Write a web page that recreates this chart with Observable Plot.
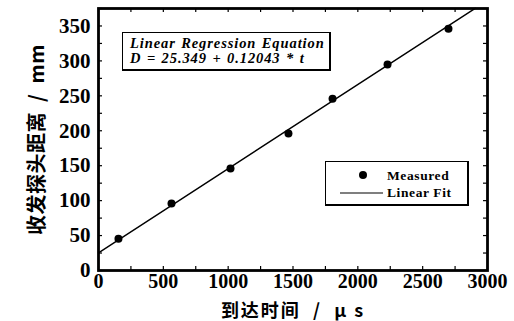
<!DOCTYPE html>
<html>
<head>
<meta charset="utf-8">
<script src="https://cdn.jsdelivr.net/npm/d3@7"></script>
<script src="https://cdn.jsdelivr.net/npm/@observablehq/plot@0.6"></script>
<style>
  html, body { margin: 0; padding: 0; background: #fff; }
  #wrap { position: relative; width: 514px; height: 321px; overflow: hidden; }
  .box { position: absolute; background: #fff; border: 1.5px solid #000; border-right-width: 2.5px; border-bottom-width: 2.5px; box-sizing: border-box;
         font-family: "Liberation Serif", serif; font-weight: bold; color: #000; }
  #eq { left: 122px; top: 32px; width: 209px; height: 39px; font-style: italic; font-size: 14.5px; letter-spacing: 0.9px; word-spacing: 1px; line-height: 15px; padding: 3px 0 0 7px; white-space: nowrap; }
  #leg { left: 325px; top: 161px; width: 144px; height: 45px; }
</style>
</head>
<body>
<div id="wrap"></div>
<script>
const times = [154, 563, 1018, 1465, 1805, 2229, 2699];
const distances = [45.5, 96, 146, 196, 246, 295, 346];
const fitIntercept = 25.349;
const fitSlope = 0.12043;
const fitRange = [0, 2905];
const xTickLabels = [0, 500, 1000, 1500, 2000, 2500, 3000];
const yTickLabels = [0, 50, 100, 150, 200, 250, 300, 350];
const xLabel = "到达时间  /  μ s";
const yLabel = "收发探头距离  /  mm";
const eqTitle = "Linear Regression Equation";
const eqText = "D = 25.349 + 0.12043 * t";
const legendNames = ["Measured", "Linear Fit"];

const measured = times.map((t, i) => ({t, d: distances[i]}));
const fit = fitRange.map(t => ({t, d: fitIntercept + fitSlope * t}));
const xMinor = d3.range(0, 3001, 250);
const yMinor = d3.range(0, 376, 25);

const ML = 98, MR = 27, MT = 8, MB = 51, W = 514, H = 321;
const pw = W - ML - MR, ph = H - MT - MB;
const tickFont = {fontFamily: "Liberation Serif, serif", fontWeight: "bold", fontSize: 20};

const chart = Plot.plot({
  width: W, height: H,
  marginLeft: ML, marginRight: MR, marginTop: MT, marginBottom: MB,
  style: {background: "#fff", color: "#000", overflow: "visible"},
  x: {domain: [0, 3000]},
  y: {domain: [0, 375]},
  marks: [
    Plot.tickY(yMinor, {y: d => d, stroke: "#000", strokeWidth: 1.2, insetRight: pw - 4}),
    Plot.tickY(yMinor, {y: d => d, stroke: "#000", strokeWidth: 1.2, insetLeft: pw - 4}),
    Plot.tickX(xMinor, {x: d => d, stroke: "#000", strokeWidth: 1.2, insetTop: ph - 4}),
    Plot.tickX(xMinor, {x: d => d, stroke: "#000", strokeWidth: 1.2, insetBottom: ph - 4}),
    Plot.axisX({ticks: xTickLabels, tickFormat: d => String(d), tickSize: 0, tickPadding: 3, label: xLabel, labelAnchor: "center", labelArrow: "none", labelOffset: 46, ...tickFont}),
    Plot.axisY({ticks: yTickLabels, tickFormat: d => String(d), tickSize: 0, tickPadding: 8, label: yLabel, labelAnchor: "center", labelArrow: "none", labelOffset: 69, ...tickFont, fontSize: 21}),
    Plot.line(fit, {x: "t", y: "d", stroke: "#000", strokeWidth: 1.4}),
    Plot.dot(measured, {x: "t", y: "d", r: 4, fill: "#000", stroke: "none"}),
    Plot.frame({stroke: "#000", strokeWidth: 2.8})
  ]
});
document.getElementById("wrap").appendChild(chart);

d3.select(chart).selectAll("g[aria-label='x-tick label'] text, g[aria-label='y-tick label'] text")
  .style("letter-spacing", "1px");
d3.select(chart).selectAll("g[aria-label='x-axis label'] text")
  .style("font-family", "'Noto Sans CJK SC', sans-serif").style("font-size", "18px").style("font-weight", "bold").style("letter-spacing", "2px");
d3.select(chart).selectAll("g[aria-label='y-axis label'] text")
  .style("font-family", "'Noto Sans CJK SC', sans-serif").style("font-size", "20px").style("font-weight", "bold").style("letter-spacing", "0.5px");

const eq = document.createElement("div");
eq.className = "box"; eq.id = "eq";
eq.innerHTML = `<div>${eqTitle}</div><div>${eqText}</div>`;
document.getElementById("wrap").appendChild(eq);

const leg = document.createElement("div");
leg.className = "box"; leg.id = "leg";
leg.innerHTML = `
<svg width="140" height="42" style="position:absolute;left:0;top:0">
  <circle cx="37" cy="13" r="4" fill="#000"/>
  <line x1="14" y1="31" x2="57" y2="31" stroke="#000" stroke-width="1.2"/>
  <text x="61" y="18" font-family="Liberation Serif, serif" font-weight="bold" font-size="13.5" letter-spacing="0.6">${legendNames[0]}</text>
  <text x="61" y="35" font-family="Liberation Serif, serif" font-weight="bold" font-size="13.5" letter-spacing="0.6">${legendNames[1]}</text>
</svg>`;
document.getElementById("wrap").appendChild(leg);
</script>
</body>
</html>
